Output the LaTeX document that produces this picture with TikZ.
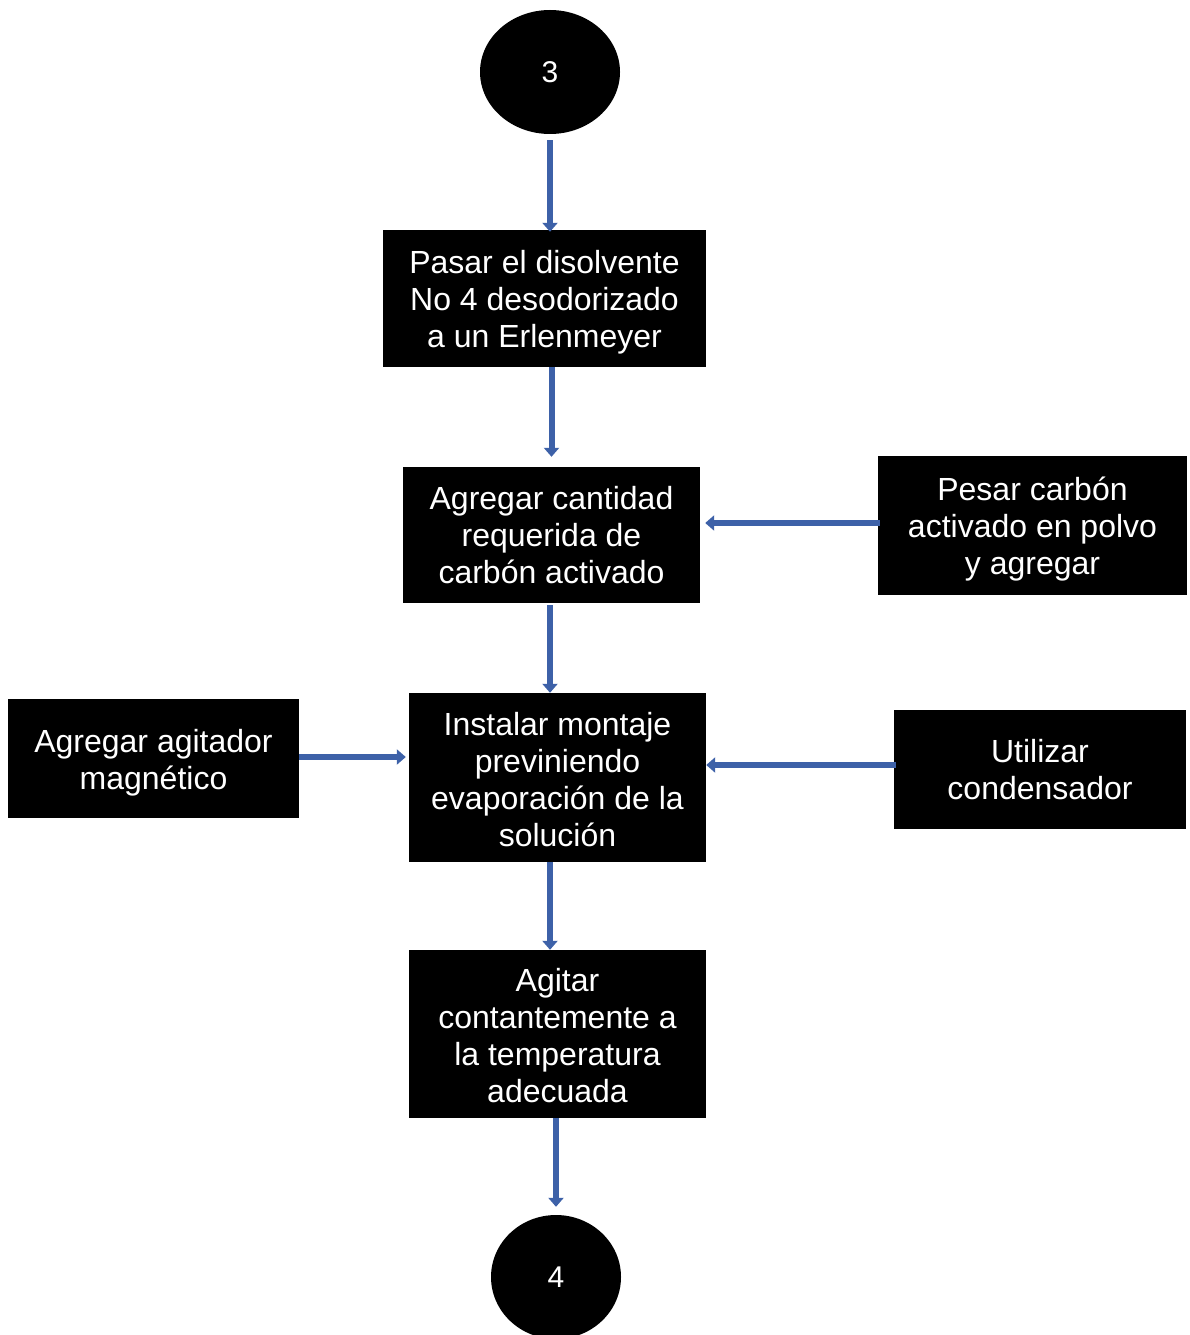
\documentclass[tikz,border=0pt]{standalone}
\usepackage{fontspec}
\setmainfont{Liberation Sans}
\usetikzlibrary{arrows.meta,shapes.geometric}
\definecolor{flowblue}{RGB}{61,97,168}
\begin{document}
\begin{tikzpicture}[x=1pt,y=-1pt,
  stepbox/.style={fill=black,inner sep=0pt},
  boxtext/.style={text=white,align=center,inner sep=0pt,
    font=\fontsize{32}{37}\selectfont},
  term/.style={ellipse,fill=black,text=white,inner sep=0pt,
    font=\fontsize{30}{36}\selectfont},
  flow/.style={draw=flowblue,line width=6pt,
    -{Triangle[width=15pt,length=9pt]}}]
\useasboundingbox (0,0) rectangle (1189,1335);

% terminals
\node[term,minimum width=140pt,minimum height=124pt] (c3) at (550,72) {3};
\node[term,minimum width=130pt,minimum height=124pt] (c4) at (556,1277) {4};

% process boxes
\node[stepbox,minimum width=323pt,minimum height=137pt] (b1) at (544.5,298.5) {};
\node[stepbox,minimum width=297pt,minimum height=136pt] (b2) at (551.5,535) {};
\node[stepbox,minimum width=309pt,minimum height=139pt] (r1) at (1032.5,525.5) {};
\node[stepbox,minimum width=297pt,minimum height=169pt] (b3) at (557.5,777.5) {};
\node[stepbox,minimum width=291pt,minimum height=119pt] (l1) at (153.5,758.5) {};
\node[stepbox,minimum width=292pt,minimum height=119pt] (r2) at (1040,769.5) {};
\node[stepbox,minimum width=297pt,minimum height=168pt] (b4) at (557.5,1034) {};

% box texts
\node[boxtext] (t1) at ([yshift=-4pt]b1.center)
  {Pasar el disolvente\\No 4 desodorizado\\a un Erlenmeyer};
\node[boxtext] (t2) at (b2.center)
  {Agregar cantidad\\requerida de\\carbón activado};
\node[boxtext] (t3) at ([yshift=-4pt]r1.center)
  {Pesar carbón\\activado en polvo\\y agregar};
\node[boxtext] (t4) at ([yshift=-2.5pt]b3.center)
  {Instalar montaje\\previniendo\\evaporación de la\\solución};
\node[boxtext] (t5) at ([yshift=-4pt]l1.center)
  {Agregar agitador\\magnético};
\node[boxtext] (t6) at (r2.center)
  {Utilizar\\condensador};
\node[boxtext] (t7) at ([yshift=-2pt]b4.center)
  {Agitar\\contantemente a\\la temperatura\\adecuada};

% connectors
\draw[flow,shorten <=6pt,shorten >=-2pt] (c3.south) -- (c3.south |- b1.north);
\draw[flow,shorten >=10pt] (b1.south -| b2.north) -- (b2.north);
\draw[flow,shorten <=2pt] ([xshift=-1.5pt]b2.south) -- ([xshift=-7.5pt]b3.north);
\draw[flow] ([xshift=-7.5pt]b3.south) -- ([xshift=-7.5pt]b4.north);
\draw[flow,shorten >=8pt] ([xshift=-1.5pt]b4.south) -- (c4.north);
\coordinate (r1in) at ([xshift=5pt]b2.east |- 0,523);
\draw[flow,shorten <=-2pt] (r1.west |- r1in) -- (r1in);
\draw[flow,shorten >=3pt] (l1.east |- 0,757) -- (b3.west |- 0,757);
\draw[flow,shorten <=-2pt] (r2.west |- 0,765) -- (b3.east |- 0,765);
\end{tikzpicture}
\end{document}
